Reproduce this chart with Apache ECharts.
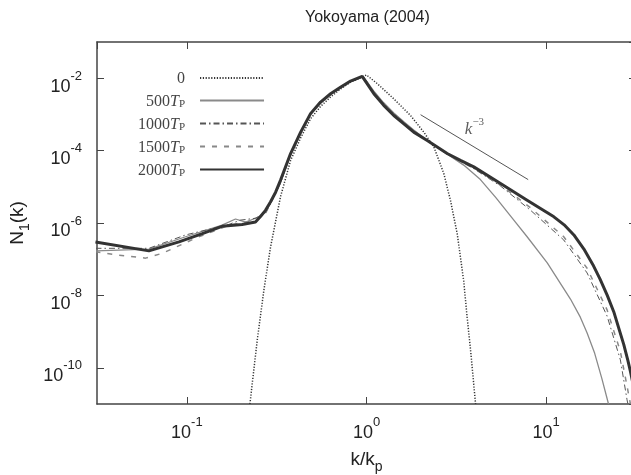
<!DOCTYPE html>
<html><head><meta charset="utf-8">
<script src="https://cdn.jsdelivr.net/npm/echarts/dist/echarts.min.js"></script>
<style>html,body{margin:0;padding:0;background:#fff}#c{width:631px;height:475px}</style>
</head><body><div id="c"></div>
<script>
// ---------- data ----------
const titleText = 'Yokoyama (2004)';
const xTickExps = [-1, 0, 1];
const yTickExps = [-10, -8, -6, -4, -2];
const xMin = 0.03162, xMax = 31.62;
const yMin = 1e-11, yMax = 1e-1;

const legendNums = ['0', '500', '1000', '1500', '2000'];
const seriesNames = ['0', '500TP', '1000TP', '1500TP', '2000TP'];

const k0 = [0.2244, 0.2466, 0.2685, 0.2924, 0.332, 0.378, 0.430, 0.488, 0.555, 0.631, 0.716, 0.815, 1.0, 1.148, 1.419, 1.758, 2.084, 2.371, 2.692, 2.931, 3.199, 3.475, 3.631, 3.793, 4.046];
const n0 = [1e-11, 5.9e-10, 1.41e-8, 2.19e-7, 5.25e-6, 5.37e-5, 2.24e-4, 7.59e-4, 1.66e-3, 3.02e-3, 5.0e-3, 7.76e-3, 1.23e-2, 7.08e-3, 2.69e-3, 9.33e-4, 3.24e-4, 1.26e-4, 2.34e-5, 4.27e-6, 5.0e-7, 2.51e-8, 2.51e-9, 3.16e-10, 1e-11];

const k500 = [0.031, 0.0615, 0.0984, 0.157, 0.1866, 0.2123, 0.251, 0.274, 0.292, 0.332, 0.378, 0.430, 0.488, 0.555, 0.631, 0.716, 0.815, 0.96, 1.099, 1.247, 1.419, 1.614, 1.832, 2.178, 2.818, 3.475, 4.305, 5.248, 6.607, 7.834, 10.14, 13.65, 15.49, 16.9, 18.62, 20.42, 22.23];
const n500 = [1.7e-7, 1.91e-7, 4.17e-7, 8.71e-7, 1.29e-6, 1.05e-6, 1.48e-6, 2.0e-6, 3.55e-6, 1.32e-5, 7.59e-5, 2.95e-4, 9.77e-4, 2.04e-3, 3.55e-3, 5.37e-3, 8.13e-3, 1.1e-2, 4.37e-3, 2.09e-3, 1.1e-3, 6.31e-4, 3.72e-4, 1.9e-4, 7.94e-5, 3.98e-5, 1.58e-5, 5.01e-6, 1.2e-6, 4.17e-7, 7.94e-8, 7.94e-9, 2.51e-9, 9.12e-10, 2.51e-10, 5.01e-11, 1e-11];

const k1000 = [0.031, 0.0615, 0.0984, 0.1714, 0.1986, 0.241, 0.274, 0.292, 0.332, 0.378, 0.430, 0.488, 0.555, 0.631, 0.716, 0.815, 0.96, 1.099, 1.247, 1.419, 1.614, 1.832, 2.178, 2.812, 3.954, 5.572, 8.19, 12.53, 16.9, 21.83, 25.88, 28.18, 28.5];
const n1000 = [2.0e-7, 2.0e-7, 4.68e-7, 9.12e-7, 1.2e-6, 1.35e-6, 1.91e-6, 3.39e-6, 1.26e-5, 7.94e-5, 3.09e-4, 1.0e-3, 2.09e-3, 3.63e-3, 5.5e-3, 8.32e-3, 1.1e-2, 4.17e-3, 2.0e-3, 1.05e-3, 6.03e-4, 3.55e-4, 1.9e-4, 7.94e-5, 3.16e-5, 1.05e-5, 2.24e-6, 3.39e-7, 4.17e-8, 2.69e-9, 1.66e-10, 1.32e-11, 1e-11];

const k1500 = [0.031, 0.0401, 0.0589, 0.0729, 0.1117, 0.1714, 0.241, 0.274, 0.292, 0.332, 0.378, 0.430, 0.488, 0.555, 0.631, 0.716, 0.815, 0.96, 1.099, 1.247, 1.419, 1.614, 1.832, 2.178, 2.812, 3.954, 5.572, 8.19, 12.53, 16.9, 21.83, 25.88, 28.18, 29.44];
const n1500 = [1.62e-7, 1.32e-7, 1.07e-7, 1.45e-7, 3.8e-7, 8.71e-7, 1.2e-6, 1.86e-6, 3.47e-6, 1.32e-5, 7.94e-5, 3.16e-4, 1.02e-3, 2.14e-3, 3.63e-3, 5.5e-3, 8.32e-3, 1.12e-2, 3.98e-3, 1.91e-3, 1.0e-3, 5.75e-4, 3.39e-4, 1.9e-4, 8.13e-5, 3.31e-5, 1.12e-5, 2.63e-6, 4.17e-7, 5.62e-8, 3.98e-9, 2.82e-10, 3.16e-11, 1e-11];

const k2000 = [0.031, 0.0615, 0.0904, 0.122, 0.157, 0.203, 0.241, 0.257, 0.274, 0.292, 0.312, 0.332, 0.378, 0.430, 0.488, 0.555, 0.631, 0.716, 0.815, 0.946, 1.099, 1.247, 1.419, 1.614, 1.832, 2.178, 2.812, 3.334, 3.954, 5.572, 7.834, 11.04, 12.59, 14.26, 16.22, 18.2, 19.95, 21.88, 23.77, 25.7, 27.04, 28.51, 29.44, 30.9];
const n2000 = [3.0e-7, 1.7e-7, 3.0e-7, 5.1e-7, 8.1e-7, 9.1e-7, 1.07e-6, 1.51e-6, 2.24e-6, 3.8e-6, 7.1e-6, 1.51e-5, 8.3e-5, 3.24e-4, 1.05e-3, 2.19e-3, 3.72e-3, 5.62e-3, 8.32e-3, 1.12e-2, 3.72e-3, 1.78e-3, 9.33e-4, 5.5e-4, 3.24e-4, 1.9e-4, 8.3e-5, 5.37e-5, 3.55e-5, 1.23e-5, 4.27e-6, 1.48e-6, 8.91e-7, 4.68e-7, 1.91e-7, 7.08e-8, 2.82e-8, 1.0e-8, 3.55e-9, 1.0e-9, 4.37e-10, 1.58e-10, 7.9e-11, 2.5e-11];

// k^-3 reference line (two end points) and its label position
const kRef = [2.0, 7.94];
const nRef = [9.8e-4, 1.58e-5];
const refLabelK = [3.99];
const refLabelN = [4.4e-4];
const refLabelText = '−3';

// ---------- build ----------
const zip = (a, b) => a.map((v, i) => [v, b[i]]);
const FS = '"Liberation Sans", Arial, sans-serif';
const SERIF = '"Liberation Serif", "Times New Roman", serif';

function powLabel(list) {
  return function (v) {
    const e = Math.round(Math.log10(v));
    if (list.indexOf(e) < 0) return '';
    return '{b|10}{s|' + e + '}';
  };
}
const powRich = {
  b: { fontFamily: FS, fontSize: 18, color: '#222', lineHeight: 26, verticalAlign: 'bottom' },
  s: { fontFamily: FS, fontSize: 13, color: '#222', lineHeight: 14, verticalAlign: 'top' }
};

const axisLine = { show: true, lineStyle: { color: '#444', width: 1.5 } };
const axisTick = { show: true, inside: true, length: 7, lineStyle: { color: '#444', width: 1 } };

function lineSeries(name, ks, ns, style) {
  return {
    name: name, type: 'line', xAxisIndex: 0, yAxisIndex: 0,
    data: zip(ks, ns), symbol: 'none', showSymbol: false,
    color: style.color, itemStyle: { color: style.color },
    lineStyle: style, silent: true, animation: false, clip: true
  };
}

const option = {
  animation: false,
  backgroundColor: '#fff',
  title: {
    text: titleText, left: 300, top: 5,
    textStyle: { fontFamily: FS, fontWeight: 'normal', fontSize: 16, color: '#222' }
  },
  grid: { left: 97, right: -5, top: 42, bottom: 71, outerBoundsMode: 'none', containLabel: false },
  legend: {
    data: seriesNames,
    orient: 'vertical', align: 'right',
    left: 138, top: 71, padding: 0,
    itemGap: 7, itemWidth: 64, itemHeight: 14,
    selectedMode: false,
    itemStyle: { color: 'rgba(0,0,0,0)', borderWidth: 0, opacity: 0 },
    formatter: function (name) {
      const i = seriesNames.indexOf(name);
      if (i === 0) return '{n|' + legendNums[i] + '}';
      return '{n|' + legendNums[i] + '}{i|T}{s|P}';
    },
    textStyle: {
      fontFamily: SERIF, fontSize: 16, color: '#444', padding: [0, 10, 0, 0],
      rich: {
        n: { fontFamily: SERIF, fontSize: 16, color: '#444', lineHeight: 18, verticalAlign: 'bottom' },
        i: { fontFamily: SERIF, fontSize: 16, fontStyle: 'italic', color: '#444', lineHeight: 18, verticalAlign: 'bottom' },
        s: { fontFamily: SERIF, fontSize: 11, color: '#444', verticalAlign: 'bottom', padding: [8, 0, 0, 0] }
      }
    }
  },
  xAxis: [
    {
      type: 'log', logBase: 10, min: xMin, max: xMax, position: 'bottom',
      axisLine: axisLine, axisTick: axisTick, splitLine: { show: false },
      axisLabel: { show: true, margin: 12, showMinLabel: false, showMaxLabel: false, formatter: powLabel(xTickExps), rich: powRich },
      name: '{a|k/k}{p|p}', nameLocation: 'middle', nameGap: 46,
      nameTextStyle: {
        rich: {
          a: { fontFamily: FS, fontSize: 19, color: '#222', verticalAlign: 'top' },
          p: { fontFamily: FS, fontSize: 14, color: '#222', verticalAlign: 'bottom', padding: [10, 0, 0, 0] }
        }
      }
    },
    {
      type: 'log', logBase: 10, min: xMin, max: xMax, position: 'top',
      axisLine: axisLine, axisTick: axisTick, splitLine: { show: false },
      axisLabel: { show: false }
    }
  ],
  yAxis: [
    {
      type: 'log', logBase: 100, min: yMin, max: yMax, position: 'left',
      axisLine: axisLine, axisTick: axisTick, splitLine: { show: false },
      axisLabel: { show: true, margin: 15, padding: [9, 0, 0, 0], showMinLabel: false, showMaxLabel: false, formatter: powLabel(yTickExps), rich: powRich },
      name: '{a|N}{s|1}{a|(k)}', nameLocation: 'middle', nameRotate: 90, nameGap: 58,
      nameTextStyle: {
        rich: {
          a: { fontFamily: FS, fontSize: 19, color: '#222', verticalAlign: 'top' },
          s: { fontFamily: FS, fontSize: 14, color: '#222', verticalAlign: 'bottom', padding: [10, 0, 0, 0] }
        }
      }
    },
    {
      type: 'log', logBase: 100, min: yMin, max: yMax, position: 'right',
      axisLine: axisLine, axisTick: axisTick, splitLine: { show: false },
      axisLabel: { show: false }
    }
  ],
  series: [
    lineSeries(seriesNames[1], k500, n500, { color: '#8a8a8a', width: 1.3, type: 'solid' }),
    lineSeries(seriesNames[2], k1000, n1000, { color: '#555', width: 1, type: [6, 3, 1.5, 3] }),
    lineSeries(seriesNames[3], k1500, n1500, { color: '#888', width: 1.5, type: [5, 7] }),
    lineSeries(seriesNames[4], k2000, n2000, { color: '#333', width: 3, type: 'solid' }),
    lineSeries(seriesNames[0], k0, n0, { color: '#333', width: 1.5, type: [1.2, 1.6] }),
    {
      name: 'kref', type: 'line', data: zip(kRef, nRef), symbol: 'none', silent: true,
      color: '#555', lineStyle: { color: '#555', width: 1 }
    },
    {
      name: 'kreflabel', type: 'scatter', data: zip(refLabelK, refLabelN), symbolSize: 0, silent: true,
      label: {
        show: true, position: 'inside',
        formatter: '{k|k}{s|' + refLabelText + '}',
        rich: {
          k: { fontFamily: SERIF, fontSize: 17, fontStyle: 'italic', color: '#333', verticalAlign: 'bottom', padding: [5, 0, 0, 0] },
          s: { fontFamily: SERIF, fontSize: 11, color: '#333', verticalAlign: 'top' }
        }
      }
    }
  ]
};

const chart = echarts.init(document.getElementById('c'), null, { renderer: 'canvas' });
chart.setOption(option);
</script>
</body></html>
